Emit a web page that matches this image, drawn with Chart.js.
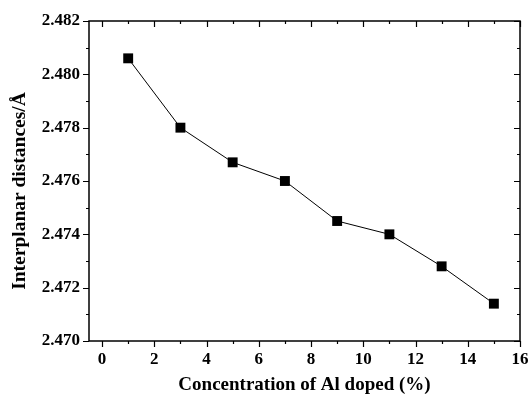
<!DOCTYPE html>
<html>
<head>
  <meta charset="UTF-8">
  <title>Interplanar distances</title>
  <script src="https://cdn.jsdelivr.net/npm/chart.js"></script>
  <style>
    html, body { margin: 0; padding: 0; background: #fff; }
    #wrap { width: 528px; height: 398px; }
  </style>
</head>
<body>
  <div id="wrap"><canvas id="grafico"></canvas></div>
  <script>
    // valores
    const concentracao = [1, 3, 5, 7, 9, 11, 13, 15];
    const distancias = [2.4806, 2.4780, 2.4767, 2.4760, 2.4745, 2.4740, 2.4728, 2.4714];
    const xTicks = [0, 2, 4, 6, 8, 10, 12, 14, 16];
    const yTicks = [2.470, 2.472, 2.474, 2.476, 2.478, 2.480, 2.482];
    const yTitulo = 'Interplanar distances/Å';

    const fonte = "'Liberation Serif', 'Times New Roman', serif";

    // moldura, marcas (maiores e menores) e título do eixo y
    const moldura = {
      id: 'moldura',
      afterDraw(chart) {
        const { ctx, chartArea: a, scales: { x, y } } = chart;
        ctx.save();
        ctx.strokeStyle = '#000';
        ctx.lineWidth = 1.5;
        ctx.strokeRect(a.left, a.top, a.right - a.left, a.bottom - a.top);
        ctx.lineWidth = 1.2;
        ctx.beginPath();
        for (let v = 0; v <= 16; v++) {
          const px = Math.round(x.getPixelForValue(v)) + 0.5;
          const len = v % 2 === 0 ? 6 : 3;
          ctx.moveTo(px, a.bottom); ctx.lineTo(px, a.bottom + len);
          ctx.moveTo(px, a.top); ctx.lineTo(px, a.top + len);
        }
        for (let i = 0; i <= 12; i++) {
          const v = 2.470 + i * 0.001;
          const py = Math.round(y.getPixelForValue(v)) + 0.5;
          const len = i % 2 === 0 ? 6 : 3;
          ctx.moveTo(a.left, py); ctx.lineTo(a.left - len, py);
          ctx.moveTo(a.right, py); ctx.lineTo(a.right - len, py);
        }
        ctx.stroke();

        ctx.translate(20, 191);
        ctx.rotate(-Math.PI / 2);
        ctx.fillStyle = '#000';
        ctx.font = 'bold 19.5px ' + fonte;
        ctx.textAlign = 'center';
        ctx.textBaseline = 'middle';
        ctx.fillText(yTitulo, 0, 0);
        ctx.restore();
      }
    };

    new Chart(document.getElementById('grafico'), {
      type: 'line',
      data: {
        datasets: [{
          data: concentracao.map((c, i) => ({ x: c, y: distancias[i] })),
          borderColor: '#000',
          borderWidth: 1,
          backgroundColor: '#000',
          pointStyle: 'rect',
          pointRadius: 7,
          pointBorderWidth: 0,
          tension: 0
        }]
      },
      plugins: [moldura],
      options: {
        responsive: true,
        maintainAspectRatio: false,
        animation: false,
        layout: { padding: { top: 21, right: 8, left: 0, bottom: 0 } },
        plugins: { legend: { display: false }, tooltip: { enabled: false } },
        scales: {
          x: {
            type: 'linear',
            min: -0.5,
            max: 16,
            afterBuildTicks: s => { s.ticks = xTicks.map(v => ({ value: v })); },
            afterFit: s => { s.height = 57; s.paddingLeft = 0; s.paddingRight = 0; },
            grid: { display: false, drawTicks: false },
            border: { display: false },
            ticks: {
              color: '#000',
              padding: 8,
              maxRotation: 0,
              font: { family: fonte, size: 17, weight: 'bold' }
            },
            title: {
              display: true,
              text: 'Concentration of Al doped (%)',
              color: '#000',
              padding: { top: 2, bottom: 2 },
              font: { family: fonte, size: 19, weight: 'bold' }
            }
          },
          y: {
            type: 'linear',
            min: 2.470,
            max: 2.482,
            afterBuildTicks: s => { s.ticks = yTicks.map(v => ({ value: v })); },
            afterFit: s => { s.width = 89; s.paddingTop = 0; s.paddingBottom = 0; },
            grid: { display: false, drawTicks: false },
            border: { display: false },
            ticks: {
              color: '#000',
              padding: 9,
              font: { family: fonte, size: 17, weight: 'bold' },
              callback: v => v.toFixed(3)
            }
          }
        }
      }
    });
  </script>
</body>
</html>
